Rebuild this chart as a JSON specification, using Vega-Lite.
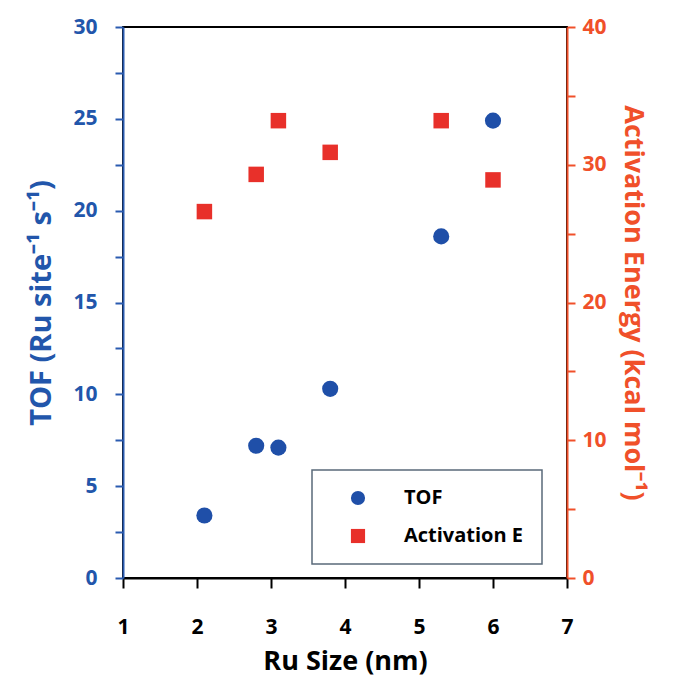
{
  "$schema": "https://vega.github.io/schema/vega-lite/v6.json",
  "width": 444,
  "height": 551,
  "autosize": {"type": "none"},
  "padding": {"left": 123, "top": 27, "right": 113, "bottom": 104},
  "background": "white",
  "config": {
    "view": {"stroke": "black", "strokeWidth": 2},
    "font": "Open Sans",
    "legend": {"strokeWidth": 1.5},
    "axis": {"labelFont": "Open Sans", "titleFont": "Open Sans", "labelFontWeight": "bold", "titleFontWeight": "bold", "grid": false}
  },
  "data": {
    "values": [
      {"size": 2.1, "tof": 3.4, "ea": 26.6},
      {"size": 2.8, "tof": 7.2, "ea": 29.3},
      {"size": 3.1, "tof": 7.1, "ea": 33.2},
      {"size": 3.8, "tof": 10.3, "ea": 30.9},
      {"size": 5.3, "tof": 18.6, "ea": 33.2},
      {"size": 6.0, "tof": 24.9, "ea": 28.9}
    ]
  },
  "encoding": {
    "x": {
      "field": "size", "type": "quantitative",
      "scale": {"domain": [1, 7], "nice": false, "zero": false},
      "axis": {
        "title": "Ru Size (nm)",
        "values": [1, 1.5, 2, 2.5, 3, 3.5, 4, 4.5, 5, 5.5, 6, 6.5, 7],
        "format": "d",
        "labelExpr": "datum.value % 1 === 0 ? datum.label : ''",
        "labelFlush": false, "labelOverlap": false,
        "domainColor": "black", "domainWidth": 2,
        "tickColor": "black", "tickWidth": 2,
        "tickSize": {"condition": {"test": "datum.value % 1 === 0", "value": 10}, "value": 6},
        "labelFontSize": 21, "labelColor": "black", "labelPadding": 28,
        "titleFontSize": 27, "titleColor": "black", "titlePadding": 11
      }
    }
  },
  "layer": [
    {
      "mark": {"type": "point", "filled": true, "opacity": 1, "size": 260},
      "encoding": {
        "y": {
          "field": "tof", "type": "quantitative",
          "scale": {"domain": [0, 30], "nice": false},
          "axis": {
            "orient": "left",
            "title": "TOF (Ru site⁻¹ s⁻¹)",
            "values": [0, 2.5, 5, 7.5, 10, 12.5, 15, 17.5, 20, 22.5, 25, 27.5, 30],
            "labelExpr": "datum.value % 5 === 0 ? datum.label : ''",
            "labelOverlap": false,
            "domainColor": "#2a5bb0", "domainWidth": 2,
            "tickColor": "#2a5bb0", "tickWidth": 2, "tickSize": 8,
            "labelFontSize": 21, "labelColor": "#2256ab", "labelPadding": 18,
            "titleFontSize": 29, "titleColor": "#2256ab", "titlePadding": 16
          }
        },
        "color": {
          "datum": "TOF", "type": "nominal",
          "scale": {"domain": ["TOF", "Activation E"], "range": ["#1f4fa8", "#e8302a"]},
          "legend": {
            "title": null, "orient": "none", "legendX": 189, "legendY": 443,
            "strokeColor": "#5a6a7a", "padding": 18,
            "symbolOffset": 18, "labelOffset": 36, "rowPadding": 18,
            "labelFont": "Open Sans", "labelFontWeight": "bold", "labelFontSize": 20, "labelColor": "black",
            "symbolSize": 200, "fillColor": "white"
          }
        },
        "shape": {
          "datum": "TOF", "type": "nominal",
          "scale": {"domain": ["TOF", "Activation E"], "range": ["circle", "square"]}
        }
      }
    },
    {
      "mark": {"type": "point", "filled": true, "opacity": 1, "size": 240},
      "encoding": {
        "y": {
          "field": "ea", "type": "quantitative",
          "scale": {"domain": [0, 40], "nice": false},
          "axis": {
            "orient": "right",
            "title": "Activation Energy (kcal mol⁻¹)",
            "values": [0, 5, 10, 15, 20, 25, 30, 35, 40],
            "labelExpr": "datum.value % 10 === 0 ? datum.label : ''",
            "labelOverlap": false,
            "domainColor": "#f0502a", "domainWidth": 2,
            "tickColor": "#f0502a", "tickWidth": 2, "tickSize": 8,
            "labelFontSize": 21, "labelColor": "#f0502a", "labelPadding": 7,
            "titleFontSize": 27, "titleColor": "#f0502a", "titlePadding": 12
          }
        },
        "color": {"datum": "Activation E", "type": "nominal"},
        "shape": {"datum": "Activation E", "type": "nominal"}
      }
    }
  ],
  "resolve": {"scale": {"y": "independent"}}
}
